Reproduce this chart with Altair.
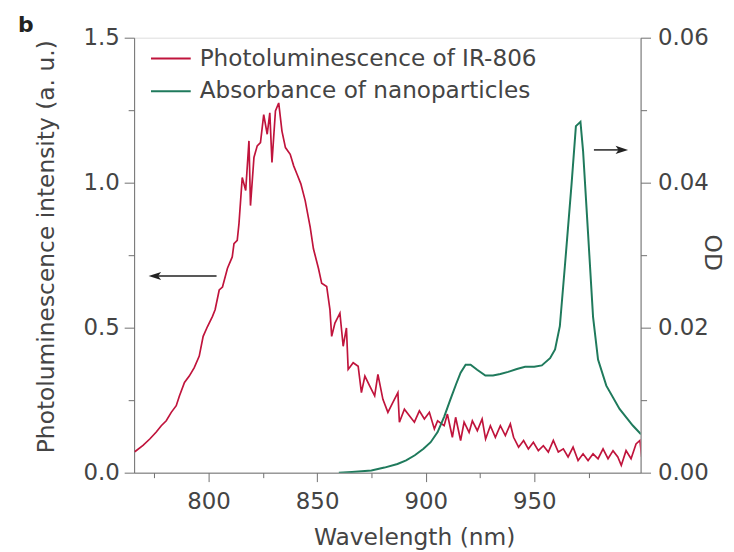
import altair as alt
import pandas as pd

# ---- data ----
pl_nm = [766.0, 769.8, 772.9, 775.9, 778.2, 780.5, 782.8, 785.1, 786.6, 788.9,
         791.1, 793.4, 795.7, 797.5, 799.5, 801.8, 803.0, 804.9, 806.4, 808.7,
         810.9, 811.7, 813.2, 814.0, 815.5, 817.1, 818.6, 819.3, 820.9, 822.4,
         823.9, 825.4, 827.0, 828.2, 829.2, 830.8, 832.3, 833.8, 835.4, 837.6,
         839.2, 840.7, 842.5, 844.5, 846.8, 848.3, 850.6, 852.1, 854.4, 855.9,
         856.7, 858.2, 860.5, 862.0, 863.5, 864.3, 866.6, 868.9, 870.4, 872.0,
         874.2, 876.5, 878.0, 880.3, 882.6, 884.9, 887.2, 887.9, 890.2, 892.5,
         894.8, 897.1, 899.4, 901.7, 904.0, 905.5, 908.5, 910.0, 912.3, 913.8,
         916.1, 917.7, 920.0, 921.5, 923.8, 926.0, 927.6, 929.8, 932.1, 934.4,
         936.7, 939.0, 940.5, 942.8, 945.1, 947.3, 949.6, 951.9, 954.2, 956.5,
         958.8, 961.1, 963.4, 965.6, 967.9, 970.2, 972.5, 974.8, 977.1, 979.4,
         981.7, 984.0, 986.3, 988.5, 990.1, 992.3, 994.6, 996.9, 998.7, 999.5]
pl_val = [0.072, 0.094, 0.116, 0.140, 0.162, 0.179, 0.208, 0.231, 0.265, 0.311,
          0.333, 0.362, 0.402, 0.470, 0.504, 0.539, 0.562, 0.630, 0.640, 0.705,
          0.744, 0.790, 0.801, 0.859, 1.018, 0.973, 1.144, 0.921, 1.087, 1.127,
          1.138, 1.235, 1.167, 1.241, 1.070, 1.247, 1.275, 1.178, 1.121, 1.098,
          1.058, 1.030, 0.996, 0.938, 0.847, 0.772, 0.705, 0.653, 0.642, 0.562,
          0.470, 0.516, 0.550, 0.436, 0.499, 0.356, 0.379, 0.367, 0.276, 0.333,
          0.299, 0.265, 0.339, 0.253, 0.208, 0.242, 0.276, 0.174, 0.219, 0.196,
          0.174, 0.213, 0.185, 0.208, 0.151, 0.179, 0.162, 0.202, 0.122, 0.191,
          0.111, 0.174, 0.139, 0.179, 0.145, 0.185, 0.116, 0.162, 0.122, 0.162,
          0.128, 0.168, 0.122, 0.088, 0.111, 0.082, 0.105, 0.076, 0.093, 0.071,
          0.111, 0.071, 0.082, 0.054, 0.088, 0.042, 0.065, 0.042, 0.065, 0.048,
          0.082, 0.048, 0.076, 0.054, 0.025, 0.076, 0.048, 0.099, 0.111, 0.054]

od_nm = [860.0, 866.0, 875.0, 881.0, 887.0, 891.0, 895.0, 899.0, 902.3, 905.5,
         908.5, 911.4, 914.0, 916.1, 918.4, 920.7, 923.7, 927.5, 931.0, 934.4,
         938.0, 942.0, 945.8, 950.0, 953.5, 957.3, 959.6, 961.8, 964.1, 967.2,
         969.2, 971.3, 972.5, 974.8, 977.1, 979.4, 983.2, 989.3, 995.4, 999.2]
od_val = [0.0000, 0.0001, 0.0003, 0.0007, 0.0012, 0.0017, 0.0024, 0.0033, 0.0042, 0.0056,
          0.0077, 0.0101, 0.0122, 0.0138, 0.0149, 0.0149, 0.0142, 0.0134, 0.0134, 0.0136,
          0.0139, 0.0143, 0.0146, 0.0146, 0.0148, 0.0158, 0.0170, 0.0202, 0.0284, 0.0398,
          0.0478, 0.0484, 0.0444, 0.0330, 0.0215, 0.0156, 0.0120, 0.0088, 0.0065, 0.0053]

series_names = ["Photoluminescence of IR-806", "Absorbance of nanoparticles"]
series_colors = ["#c0143c", "#1f7a5c"]

x_domain = [765.7, 999.0]
x_ticks = [775, 800, 825, 850, 875, 900, 925, 950, 975]
left_ticks = [0.0, 0.25, 0.5, 0.75, 1.0, 1.25, 1.5]
right_ticks = [0.0, 0.01, 0.02, 0.03, 0.04, 0.05, 0.06]

# ---- styling ----
W, H = 510, 438
FONT = "DejaVu Sans"
AXC = "#707070"
TXT = "#444444"
LBL = 23
TTL = 23.5

pl_df = pd.DataFrame({"nm": pl_nm, "val": pl_val})
od_df = pd.DataFrame({"nm": od_nm, "val": od_val})
one = pd.DataFrame({"k": [0]})  # single row for annotations

common_axis = dict(
    domainColor=AXC, tickColor=AXC, labelColor=TXT, titleColor=TXT,
    labelFont=FONT, titleFont=FONT, labelFontSize=LBL, titleFontSize=TTL,
    titleFontWeight="normal", grid=False, tickWidth=1, domainWidth=1,
)

x_enc = alt.X(
    "nm:Q",
    scale=alt.Scale(domain=x_domain, nice=False, zero=False),
    axis=alt.Axis(
        values=x_ticks,
        labelExpr="datum.value % 50 === 0 ? datum.label : ''",
        tickSize={"condition": {"test": "datum.value % 50 === 0", "value": 9}, "value": 5},
        labelPadding=9,
        title="Wavelength (nm)",
        titleX=282, titleY=65, titleAlign="center", titleBaseline="middle",
        **common_axis,
    ),
)

pl_line = alt.Chart(pl_df).mark_line(
    color=series_colors[0], strokeWidth=1.7, clip=True
).encode(
    x=x_enc,
    y=alt.Y(
        "val:Q",
        scale=alt.Scale(domain=[0, 1.5], nice=False),
        axis=alt.Axis(
            orient="left",
            values=left_ticks,
            format=".1f",
            labelExpr="round(datum.value * 100) % 50 === 0 ? datum.label : ''",
            tickSize={"condition": {"test": "round(datum.value * 100) % 50 === 0", "value": 10}, "value": 6},
            labelPadding=5,
            title="Photoluminescence intensity (a. u.)",
            titleX=-88, titleY=210, titleAngle=270,
            titleAlign="center", titleBaseline="middle",
            **common_axis,
        ),
    ),
)

od_line = alt.Chart(od_df).mark_line(
    color=series_colors[1], strokeWidth=2, clip=True
).encode(
    x=alt.X("nm:Q", scale=alt.Scale(domain=x_domain, nice=False, zero=False)),
    y=alt.Y(
        "val:Q",
        scale=alt.Scale(domain=[0, 0.06], nice=False),
        axis=alt.Axis(
            orient="right",
            values=right_ticks,
            format=".2f",
            labelExpr="round(datum.value * 100) % 2 === 0 ? datum.label : ''",
            tickSize={"condition": {"test": "round(datum.value * 100) % 2 === 0", "value": 10}, "value": 6},
            labelPadding=7,
            title="OD",
            titleX=71, titleY=216, titleAngle=90,
            titleAlign="center", titleBaseline="middle",
            **common_axis,
        ),
    ),
)

# ---- manual legend ----
legend_layers = []
for i, (name, col) in enumerate(zip(series_names, series_colors)):
    yy = 21 + i * 33
    legend_layers.append(
        alt.Chart(one).mark_rule(color=col, strokeWidth=2).encode(
            x=alt.value(17), x2=alt.value(57), y=alt.value(yy)
        )
    )
    legend_layers.append(
        alt.Chart(one).mark_text(
            align="left", baseline="middle", font=FONT, fontSize=23.3, color=TXT
        ).encode(x=alt.value(66), y=alt.value(yy), text=alt.value(name))
    )

# ---- arrows ----
arrow_color = "#222222"
arrows = [
    alt.Chart(one).mark_rule(color=arrow_color, strokeWidth=1.5).encode(
        x=alt.value(20), x2=alt.value(83), y=alt.value(240)
    ),
    alt.Chart(one).mark_point(
        shape="M-1,0L0.7,-0.55L0.3,0L0.7,0.55Z", filled=True, opacity=1,
        color=arrow_color, size=220
    ).encode(x=alt.value(22), y=alt.value(240)),
    alt.Chart(one).mark_rule(color=arrow_color, strokeWidth=1.5).encode(
        x=alt.value(463), x2=alt.value(492), y=alt.value(113)
    ),
    alt.Chart(one).mark_point(
        shape="M1,0L-0.7,-0.55L-0.3,0L-0.7,0.55Z", filled=True, opacity=1,
        color=arrow_color, size=220
    ).encode(x=alt.value(490), y=alt.value(113)),
]

panel_label = alt.Chart(one).mark_text(
    align="left", baseline="middle", font=FONT, fontSize=22,
    fontWeight="bold", color="#222222"
).encode(x=alt.value(-117), y=alt.value(-13), text=alt.value("b"))

chart = alt.layer(
    pl_line, od_line, *legend_layers, *arrows, panel_label
).resolve_scale(
    y="independent"
).properties(
    width=W, height=H,
    autosize=alt.AutoSizeParams(type="none"),
    padding={"left": 127, "top": 28, "right": 86, "bottom": 80},
).configure_view(
    stroke=AXC, strokeWidth=1
).configure(
    background="white"
)

chart.save("out.html", embed_options={"renderer": "svg", "actions": False})
